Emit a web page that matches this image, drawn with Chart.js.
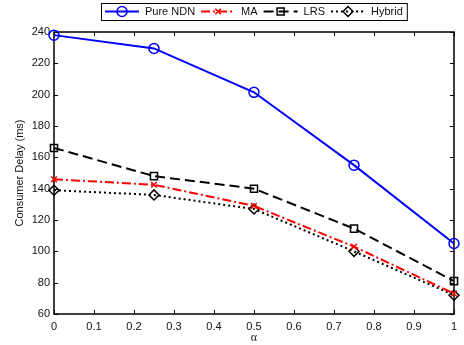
<!DOCTYPE html>
<html>
<head>
<meta charset="utf-8">
<script src="https://cdn.jsdelivr.net/npm/chart.js@4.4.1/dist/chart.umd.min.js"></script>
<style>
  html, body { margin: 0; padding: 0; background: #fff; }
</style>
</head>
<body>
<canvas id="canvas" width="464" height="345"></canvas>
<script>
// values
const alpha = [0, 0.25, 0.5, 0.75, 1];
const pureNdn = [238, 229.5, 201.5, 155, 105];
const ma = [146, 142.5, 129, 103, 73];
const lrs = [166, 148, 140, 114.5, 81];
const hybrid = [139, 136, 127, 100, 72];
const seriesNames = ["Pure NDN", "MA", "LRS", "Hybrid"];
const xTicks = [0, 0.1, 0.2, 0.3, 0.4, 0.5, 0.6, 0.7, 0.8, 0.9, 1];
const yTicks = [60, 80, 100, 120, 140, 160, 180, 200, 220, 240];

const FONT = "'Liberation Sans', Arial, Helvetica, sans-serif";

const points = (ys) => alpha.map((x, i) => ({ x: x, y: ys[i] }));

// MATLAB style box with inward ticks on all four sides
const frame = {
  id: "frame",
  beforeDatasetsDraw(chart) {
    const { ctx, chartArea: a } = chart;
    const xs = chart.scales.x, ys = chart.scales.y;
    ctx.save();
    ctx.strokeStyle = "#000";
    ctx.lineWidth = 1.5;
    ctx.strokeRect(a.left, a.top, a.right - a.left, a.bottom - a.top);
    ctx.lineWidth = 1;
    ctx.beginPath();
    xTicks.forEach(v => {
      const px = Math.round(xs.getPixelForValue(v)) + 0.5;
      ctx.moveTo(px, a.bottom); ctx.lineTo(px, a.bottom - 4);
      ctx.moveTo(px, a.top); ctx.lineTo(px, a.top + 4);
    });
    yTicks.forEach(v => {
      const py = Math.round(ys.getPixelForValue(v)) + 0.5;
      ctx.moveTo(a.left, py); ctx.lineTo(a.left + 4, py);
      ctx.moveTo(a.right, py); ctx.lineTo(a.right - 4, py);
    });
    ctx.stroke();
    ctx.restore();
  },
  afterDraw(chart) {
    // boxed legend centred over the plot
    const { ctx, chartArea: a } = chart;
    const sets = chart.data.datasets;
    ctx.save();
    ctx.font = "11px " + FONT;
    const lineLen = 34, gapLine = 6, gapItem = 6, pad = 4;
    const widths = sets.map(d => ctx.measureText(d.label).width);
    let total = pad * 2 + gapItem * (sets.length - 1);
    widths.forEach(w => { total += lineLen + gapLine + w; });
    const left = Math.round((a.left + a.right) / 2 - total / 2);
    const top = 3, h = 17, cy = top + h / 2;
    ctx.fillStyle = "#fff";
    ctx.fillRect(left, top, total, h);
    ctx.strokeStyle = "#000";
    ctx.lineWidth = 1;
    ctx.strokeRect(left + 0.5, top + 0.5, total, h);
    let x = left + pad;
    sets.forEach((d, i) => {
      ctx.strokeStyle = d.borderColor;
      ctx.lineWidth = d.borderWidth;
      ctx.setLineDash(d.borderDash || []);
      ctx.beginPath();
      ctx.moveTo(x, cy); ctx.lineTo(x + lineLen, cy);
      ctx.stroke();
      ctx.setLineDash([]);
      ctx.strokeStyle = d.pointBorderColor;
      ctx.fillStyle = "rgba(0,0,0,0)";
      ctx.lineWidth = d.pointBorderWidth;
      Chart.helpers.drawPoint(ctx, {
        pointStyle: d.pointStyle, radius: d.pointRadius, rotation: 0,
        borderWidth: d.pointBorderWidth
      }, x + lineLen / 2, cy);
      ctx.fillStyle = "#111";
      ctx.textBaseline = "middle";
      ctx.textAlign = "left";
      ctx.fillText(d.label, x + lineLen + gapLine, cy + 0.5);
      x += lineLen + gapLine + widths[i] + gapItem;
    });
    ctx.restore();
  }
};

const series = (label, ys, color, dash, style, radius) => ({
  label: label,
  data: points(ys),
  borderColor: color,
  borderWidth: 2,
  borderDash: dash,
  pointStyle: style,
  pointRadius: radius,
  pointHoverRadius: radius,
  pointBorderColor: color,
  pointBackgroundColor: "rgba(0,0,0,0)",
  pointBorderWidth: 1.5,
  tension: 0,
  clip: false
});

new Chart(document.getElementById("canvas").getContext("2d"), {
  type: "line",
  data: {
    datasets: [
      series(seriesNames[0], pureNdn, "#0000ff", [], "circle", 5),
      series(seriesNames[1], ma, "#ff0000", [9, 3, 2, 3], "crossRot", 4),
      series(seriesNames[2], lrs, "#000000", [10, 5], "rect", 5),
      series(seriesNames[3], hybrid, "#000000", [2, 3], "rectRot", 5)
    ]
  },
  options: {
    responsive: false,
    animation: false,
    events: [],
    layout: { padding: { top: 32, right: 10, left: 0, bottom: 0 } },
    plugins: { legend: { display: false }, tooltip: { enabled: false } },
    scales: {
      x: {
        type: "linear",
        min: 0, max: 1,
        afterFit: (s) => { s.height = 31; },
        afterBuildTicks: (s) => { s.ticks = xTicks.map(v => ({ value: v })); },
        grid: { display: true, drawOnChartArea: false, drawTicks: false },
        border: { display: false },
        ticks: {
          padding: 6, color: "#111", font: { family: FONT, size: 11 },
          maxRotation: 0, autoSkip: false,
          callback: (v) => String(v)
        },
        title: {
          display: true, text: "α", color: "#111",
          font: { family: "'Liberation Serif', 'DejaVu Serif', serif", size: 12 },
          padding: { top: 1, bottom: 0 }
        }
      },
      y: {
        type: "linear",
        min: 60, max: 240,
        afterFit: (s) => { s.width = 54; },
        afterBuildTicks: (s) => { s.ticks = yTicks.map(v => ({ value: v })); },
        grid: { display: true, drawOnChartArea: false, drawTicks: false },
        border: { display: false },
        ticks: {
          padding: 4, color: "#111", font: { family: FONT, size: 11 },
          autoSkip: false
        },
        title: {
          display: true, text: "Consumer Delay (ms)", color: "#111",
          font: { family: FONT, size: 11 },
          padding: { top: 13, bottom: 0 }
        }
      }
    }
  },
  plugins: [frame]
});
</script>
</body>
</html>
